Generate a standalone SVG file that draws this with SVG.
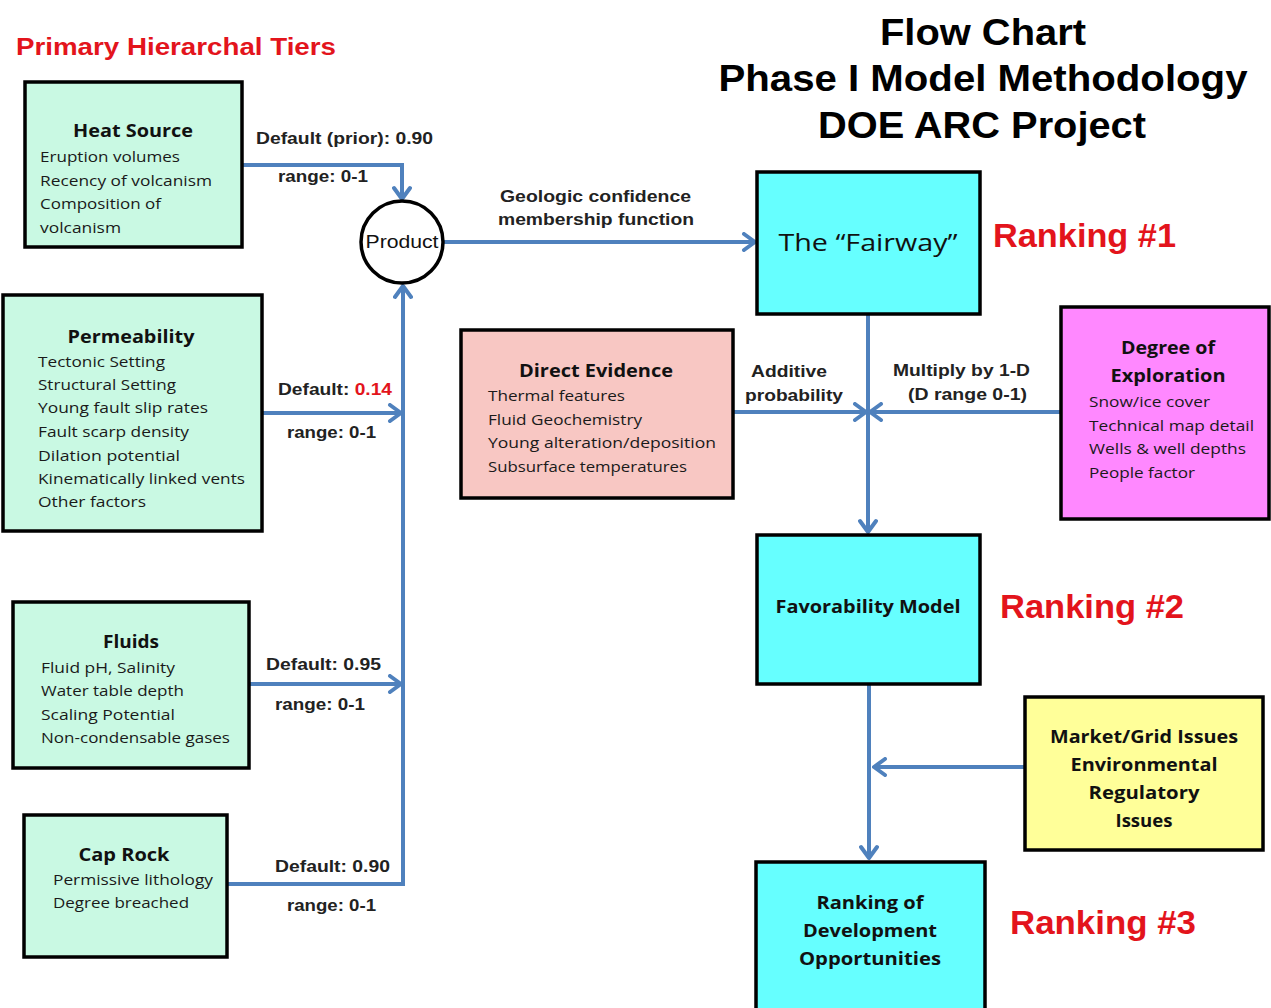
<svg xmlns="http://www.w3.org/2000/svg" width="1271" height="1008" viewBox="0 0 1271 1008">
  <style>
    .box { stroke: #000; stroke-width: 3.5; }
    .mint { fill: #c9f9e3; }
    .cyan { fill: #66ffff; }
    .pink { fill: #f8c7c3; }
    .magenta { fill: #ff88ff; }
    .yellow { fill: #ffff99; }
    .ttl { font-family: "Open Sans", "Noto Sans", sans-serif; font-weight: bold; font-size: 17px; fill: #111; text-anchor: middle; }
    .itm { font-family: "Open Sans", "Noto Sans", sans-serif; font-size: 15px; fill: #1a1a1a; }
    .lbl { font-family: "Liberation Sans", Arial, sans-serif; font-weight: bold; font-size: 17px; fill: #222; }
    .head { font-family: "Liberation Sans", Arial, sans-serif; font-weight: bold; font-size: 37px; fill: #000; text-anchor: middle; }
    .rank { font-family: "Liberation Sans", Arial, sans-serif; font-weight: bold; font-size: 34px; fill: #e3141c; }
    .conn { fill: none; stroke: #4f81bd; stroke-width: 4; }
  </style>
  <defs>
    <marker id="arr" viewBox="0 0 16 20" markerWidth="16" markerHeight="20" refX="14" refY="10" orient="auto" markerUnits="userSpaceOnUse">
      <path d="M3,2 L14,10 L3,18" fill="none" stroke="#4f81bd" stroke-width="4" stroke-linecap="round" stroke-linejoin="round"/>
    </marker>
  </defs>

  <rect width="1271" height="1008" fill="#fff"/>

  <!-- headings -->
  <g id="headings">
    <text x="16" y="55" font-family="Liberation Sans, Arial, sans-serif" font-weight="bold" font-size="24" fill="#e3141c" textLength="320" lengthAdjust="spacingAndGlyphs">Primary Hierarchal Tiers</text>
    <text class="head" x="983" y="45" textLength="206" lengthAdjust="spacingAndGlyphs">Flow Chart</text>
    <text class="head" x="983" y="91" textLength="529" lengthAdjust="spacingAndGlyphs">Phase I Model  Methodology</text>
    <text class="head" x="982" y="138" textLength="328" lengthAdjust="spacingAndGlyphs">DOE ARC Project</text>
  </g>

  <!-- connectors -->
  <g id="connectors">
    <path class="conn" d="M242,165 H402 V199" marker-end="url(#arr)"/>
    <path class="conn" d="M443,242 H755" marker-end="url(#arr)"/>
    <path class="conn" d="M227,884 H403 V286" marker-end="url(#arr)"/>
    <path class="conn" d="M262,413 H401" marker-end="url(#arr)"/>
    <path class="conn" d="M249,684 H401" marker-end="url(#arr)"/>
    <path class="conn" d="M868,314 V532" marker-end="url(#arr)"/>
    <path class="conn" d="M733,412 H866" marker-end="url(#arr)"/>
    <path class="conn" d="M1061,412 H870" marker-end="url(#arr)"/>
    <path class="conn" d="M869,684 V858" marker-end="url(#arr)"/>
    <path class="conn" d="M1025,767 H874" marker-end="url(#arr)"/>
  </g>

  <!-- connector labels -->
  <g id="connector-labels">
    <text class="lbl" x="256" y="144" textLength="177" lengthAdjust="spacingAndGlyphs">Default (prior): 0.90</text>
    <text class="lbl" x="278" y="182" textLength="90" lengthAdjust="spacingAndGlyphs">range: 0-1</text>
    <text class="lbl" x="278" y="395" textLength="114" lengthAdjust="spacingAndGlyphs">Default: <tspan fill="#e3141c">0.14</tspan></text>
    <text class="lbl" x="287" y="438" textLength="89" lengthAdjust="spacingAndGlyphs">range: 0-1</text>
    <text class="lbl" x="266" y="670" textLength="115" lengthAdjust="spacingAndGlyphs">Default: 0.95</text>
    <text class="lbl" x="275" y="710" textLength="90" lengthAdjust="spacingAndGlyphs">range: 0-1</text>
    <text class="lbl" x="275" y="872" textLength="115" lengthAdjust="spacingAndGlyphs">Default: 0.90</text>
    <text class="lbl" x="287" y="911" textLength="89" lengthAdjust="spacingAndGlyphs">range: 0-1</text>
    <text class="lbl" x="500" y="202" textLength="191" lengthAdjust="spacingAndGlyphs">Geologic confidence</text>
    <text class="lbl" x="498" y="225" textLength="196" lengthAdjust="spacingAndGlyphs">membership function</text>
    <text class="lbl" x="751" y="377" textLength="76" lengthAdjust="spacingAndGlyphs">Additive</text>
    <text class="lbl" x="745" y="401" textLength="98" lengthAdjust="spacingAndGlyphs">probability</text>
    <text class="lbl" x="893" y="376" textLength="137" lengthAdjust="spacingAndGlyphs">Multiply by 1-D</text>
    <text class="lbl" x="908" y="400" textLength="119" lengthAdjust="spacingAndGlyphs">(D range 0-1)</text>
  </g>

  <!-- Heat Source -->
  <g id="heat-source">
    <rect class="box mint" x="25" y="82" width="217" height="165"/>
    <text class="ttl" x="133" y="137" textLength="120" lengthAdjust="spacingAndGlyphs">Heat Source</text>
    <text class="itm" x="40" y="162" textLength="140" lengthAdjust="spacingAndGlyphs">Eruption volumes</text>
    <text class="itm" x="40" y="186" textLength="172" lengthAdjust="spacingAndGlyphs">Recency of volcanism</text>
    <text class="itm" x="40" y="209" textLength="121" lengthAdjust="spacingAndGlyphs">Composition of</text>
    <text class="itm" x="40" y="233" textLength="81" lengthAdjust="spacingAndGlyphs">volcanism</text>
  </g>

  <!-- Product -->
  <g id="product">
    <circle cx="402" cy="242" r="41" fill="#fff" stroke="#000" stroke-width="3.5"/>
    <text x="402" y="248" font-family="Liberation Sans, Arial, sans-serif" font-size="18" fill="#111" text-anchor="middle" textLength="73" lengthAdjust="spacingAndGlyphs">Product</text>
  </g>

  <!-- Permeability -->
  <g id="permeability">
    <rect class="box mint" x="3" y="295" width="259" height="236"/>
    <text class="ttl" x="131" y="343" textLength="127" lengthAdjust="spacingAndGlyphs">Permeability</text>
    <text class="itm" x="38" y="367" textLength="127" lengthAdjust="spacingAndGlyphs">Tectonic Setting</text>
    <text class="itm" x="38" y="390" textLength="138" lengthAdjust="spacingAndGlyphs">Structural Setting</text>
    <text class="itm" x="38" y="413" textLength="170" lengthAdjust="spacingAndGlyphs">Young fault slip rates</text>
    <text class="itm" x="38" y="437" textLength="151" lengthAdjust="spacingAndGlyphs">Fault scarp density</text>
    <text class="itm" x="38" y="461" textLength="142" lengthAdjust="spacingAndGlyphs">Dilation potential</text>
    <text class="itm" x="38" y="484" textLength="207" lengthAdjust="spacingAndGlyphs">Kinematically linked vents</text>
    <text class="itm" x="38" y="507" textLength="108" lengthAdjust="spacingAndGlyphs">Other factors</text>
  </g>

  <!-- Fluids -->
  <g id="fluids">
    <rect class="box mint" x="13" y="602" width="236" height="166"/>
    <text class="ttl" x="131" y="648" textLength="56" lengthAdjust="spacingAndGlyphs">Fluids</text>
    <text class="itm" x="41" y="673" textLength="134" lengthAdjust="spacingAndGlyphs">Fluid pH, Salinity</text>
    <text class="itm" x="41" y="696" textLength="143" lengthAdjust="spacingAndGlyphs">Water table depth</text>
    <text class="itm" x="41" y="720" textLength="134" lengthAdjust="spacingAndGlyphs">Scaling Potential</text>
    <text class="itm" x="41" y="743" textLength="189" lengthAdjust="spacingAndGlyphs">Non-condensable gases</text>
  </g>

  <!-- Cap Rock -->
  <g id="cap-rock">
    <rect class="box mint" x="24" y="815" width="203" height="142"/>
    <text class="ttl" x="124" y="861" textLength="91" lengthAdjust="spacingAndGlyphs">Cap Rock</text>
    <text class="itm" x="53" y="885" textLength="160" lengthAdjust="spacingAndGlyphs">Permissive lithology</text>
    <text class="itm" x="53" y="908" textLength="136" lengthAdjust="spacingAndGlyphs">Degree  breached</text>
  </g>

  <!-- The Fairway -->
  <g id="fairway">
    <rect class="box cyan" x="757" y="172" width="223" height="142"/>
    <text x="868" y="251" font-family="Open Sans, Noto Sans, sans-serif" font-size="23" fill="#111" text-anchor="middle" textLength="179" lengthAdjust="spacingAndGlyphs">The “Fairway”</text>
  </g>
  <text class="rank" x="993" y="247" textLength="183" lengthAdjust="spacingAndGlyphs">Ranking #1</text>

  <!-- Direct Evidence -->
  <g id="direct-evidence">
    <rect class="box pink" x="461" y="330" width="272" height="168"/>
    <text class="ttl" x="596" y="377" textLength="154" lengthAdjust="spacingAndGlyphs">Direct Evidence</text>
    <text class="itm" x="488" y="401" textLength="137" lengthAdjust="spacingAndGlyphs">Thermal features</text>
    <text class="itm" x="488" y="425" textLength="154" lengthAdjust="spacingAndGlyphs">Fluid Geochemistry</text>
    <text class="itm" x="488" y="448" textLength="228" lengthAdjust="spacingAndGlyphs">Young alteration/deposition</text>
    <text class="itm" x="488" y="472" textLength="199" lengthAdjust="spacingAndGlyphs">Subsurface temperatures</text>
  </g>

  <!-- Degree of Exploration -->
  <g id="degree-of-exploration">
    <rect class="box magenta" x="1061" y="307" width="208" height="212"/>
    <text class="ttl" x="1168" y="354" textLength="94" lengthAdjust="spacingAndGlyphs">Degree of</text>
    <text class="ttl" x="1168" y="382" textLength="115" lengthAdjust="spacingAndGlyphs">Exploration</text>
    <text class="itm" x="1089" y="407" textLength="121" lengthAdjust="spacingAndGlyphs">Snow/ice cover</text>
    <text class="itm" x="1089" y="431" textLength="165" lengthAdjust="spacingAndGlyphs">Technical map detail</text>
    <text class="itm" x="1089" y="454" textLength="157" lengthAdjust="spacingAndGlyphs">Wells &amp; well depths</text>
    <text class="itm" x="1089" y="478" textLength="106" lengthAdjust="spacingAndGlyphs">People factor</text>
  </g>

  <!-- Favorability Model -->
  <g id="favorability-model">
    <rect class="box cyan" x="757" y="535" width="223" height="149"/>
    <text class="ttl" x="868" y="613" textLength="185" lengthAdjust="spacingAndGlyphs">Favorability Model</text>
  </g>
  <text class="rank" x="1000" y="618" textLength="184" lengthAdjust="spacingAndGlyphs">Ranking #2</text>

  <!-- Market / Grid Issues -->
  <g id="market-issues">
    <rect class="box yellow" x="1025" y="697" width="238" height="153"/>
    <text class="ttl" x="1144" y="743" textLength="188" lengthAdjust="spacingAndGlyphs">Market/Grid Issues</text>
    <text class="ttl" x="1144" y="771" textLength="147" lengthAdjust="spacingAndGlyphs">Environmental</text>
    <text class="ttl" x="1144" y="799" textLength="111" lengthAdjust="spacingAndGlyphs">Regulatory</text>
    <text class="ttl" x="1144" y="827" textLength="57" lengthAdjust="spacingAndGlyphs">Issues</text>
  </g>

  <!-- Ranking of Development Opportunities -->
  <g id="ranking-opportunities">
    <rect class="box cyan" x="756" y="862" width="229" height="155"/>
    <text class="ttl" x="870" y="909" textLength="107" lengthAdjust="spacingAndGlyphs">Ranking of</text>
    <text class="ttl" x="870" y="937" textLength="134" lengthAdjust="spacingAndGlyphs">Development</text>
    <text class="ttl" x="870" y="965" textLength="142" lengthAdjust="spacingAndGlyphs">Opportunities</text>
  </g>
  <text class="rank" x="1010" y="934" textLength="186" lengthAdjust="spacingAndGlyphs">Ranking #3</text>
</svg>
